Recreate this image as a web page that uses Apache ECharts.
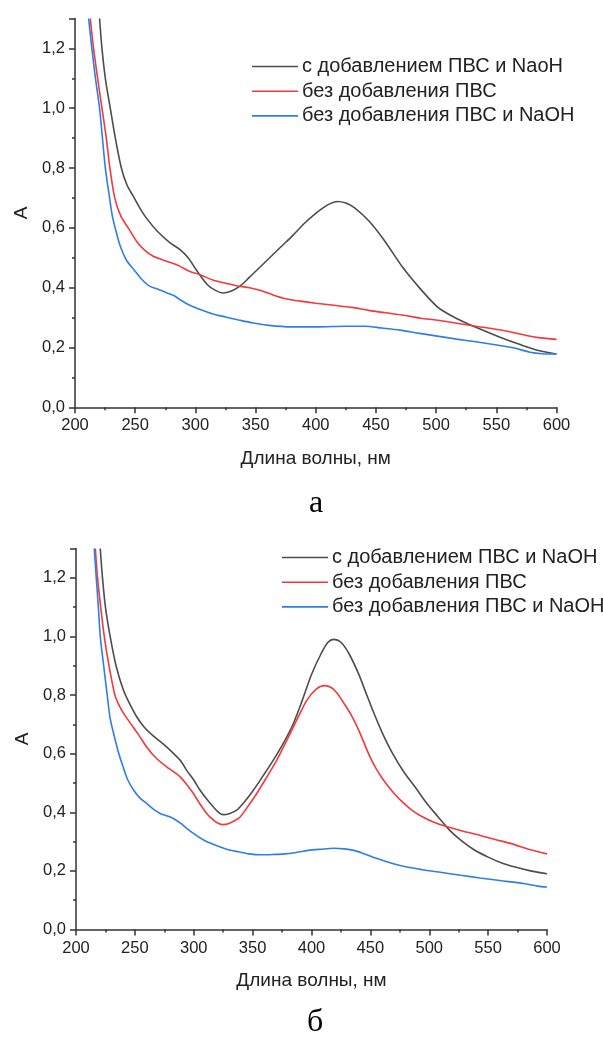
<!DOCTYPE html>
<html>
<head>
<meta charset="utf-8">
<script src="https://cdn.jsdelivr.net/npm/echarts@6/dist/echarts.min.js"></script>
<style>
    body {margin: 0; background: #fff;}
    #chart_a {width: 603px; height: 520px;}
    #chart_b {width: 603px; height: 522px;}
</style>
</head>
<body>
<div id="chart_a"></div>
<div id="chart_b"></div>
<script>
// axis settings (nm / absorbance)
var xMin = 200, xMax = 600, xStep = 50;
var yMin = 0, yMax = 1.3, yStep = 0.2;

var namesA = ['с добавлением ПВС и NaoH', 'без добавления ПВС', 'без добавления ПВС и NaOH'];
var namesB = ['с добавлением ПВС и NaOH', 'без добавления ПВС', 'без добавления ПВС и NaOH'];
var colors = ['#4d4d4d', '#f2393b', '#2d7ee6'];

// chart а : [wavelength, A]
var aBlack = [[220.4,1.3],[222.4,1.2],[225.2,1.1],[229.3,1.0],[233.5,0.9],[238.5,0.8],[243,0.745],[248.5,0.705],[254,0.665],[259.8,0.63],
    [269,0.586],[279,0.55],[287,0.528],[294,0.5],[301,0.458],[310,0.41],[317,0.39],[323,0.382],[330,0.389],[337,0.405],
    [345,0.435],[354,0.47],[363,0.505],[372,0.54],[381,0.575],[390,0.613],[398,0.642],[406,0.667],[412,0.681],[418,0.688],
    [425,0.683],[432,0.668],[444,0.624],[457,0.558],[472,0.469],[488,0.391],[501,0.336],[510,0.312],[520,0.291],[532,0.269],
    [552,0.236],[571,0.208],[585,0.19],[600,0.178]];
var aRed = [[212.7,1.3],[215.4,1.2],[218.8,1.1],[222.4,1.0],[226,0.9],[229,0.8],[233,0.7],[238,0.64],[245,0.595],[252,0.55],
    [258,0.525],[265,0.505],[272,0.494],[280,0.483],[287,0.472],[295,0.455],[304,0.443],[315,0.425],[326,0.414],[336,0.405],
    [345,0.4],[355,0.39],[365,0.375],[376,0.362],[387,0.355],[400,0.348],[415,0.341],[430,0.334],[444,0.324],[458,0.316],
    [473,0.308],[487,0.298],[501,0.291],[517,0.281],[533,0.271],[548,0.262],[562,0.252],[575,0.24],[585,0.233],[600,0.227]];
var aBlue = [[211.3,1.3],[214,1.2],[217,1.1],[220.4,1.0],[222.8,0.9],[225.2,0.8],[228,0.72],[231,0.64],[234,0.59],[237.5,0.54],
    [243,0.49],[249,0.46],[255,0.43],[262,0.405],[269,0.395],[276,0.383],[282,0.374],[288,0.358],[295,0.342],[304,0.327],
    [314,0.313],[325,0.302],[336,0.292],[348,0.282],[361,0.274],[380,0.269],[402,0.269],[425,0.271],[441,0.271],[455,0.265],
    [470,0.258],[485,0.248],[501,0.238],[517,0.228],[533,0.219],[549,0.209],[565,0.198],[578,0.184],[588,0.179],[600,0.178]];

// chart б
var bBlack = [[220.6,1.3],[222.5,1.2],[225,1.1],[229,1.0],[234,0.9],[240,0.82],[245,0.775],[251.7,0.725],[258,0.69],[265.8,0.66],
    [275,0.63],[283,0.6],[289,0.575],[294,0.543],[300,0.51],[305.4,0.475],[311,0.445],[316.7,0.418],[321,0.4],[325,0.392],
    [330,0.395],[336.5,0.407],[343,0.435],[350.6,0.475],[359,0.525],[367.6,0.578],[376,0.635],[384.6,0.703],[392,0.78],[400,0.87],
    [408,0.94],[414,0.98],[419,0.99],[425,0.98],[432,0.94],[440,0.872],[446,0.81],[452,0.748],[460,0.672],[468,0.607],
    [478,0.54],[488,0.486],[498,0.43],[507.6,0.384],[517,0.34],[527,0.304],[538,0.272],[550,0.247],[561,0.228],[573,0.213],
    [586,0.2],[600,0.19]];
var bRed = [[216.4,1.3],[218.3,1.2],[221,1.1],[224,1.0],[228,0.9],[233,0.8],[236,0.77],[240,0.74],[246,0.705],[253,0.665],
    [260,0.623],[268,0.585],[277,0.555],[283,0.538],[288.4,0.521],[294,0.495],[299.7,0.464],[305,0.43],[311,0.396],[317,0.372],
    [321,0.362],[325,0.358],[330,0.362],[335,0.372],[339.4,0.384],[346,0.42],[353.5,0.464],[362,0.52],[370.5,0.578],[379,0.645],
    [387.4,0.714],[396,0.782],[404,0.82],[411,0.832],[417,0.825],[422,0.805],[427,0.775],[434,0.73],[441,0.672],[449,0.595],
    [455,0.548],[462,0.505],[470,0.465],[478,0.432],[486,0.405],[494.5,0.384],[504,0.366],[514,0.352],[528,0.336],[543.5,0.321],
    [556,0.307],[569.6,0.293],[585,0.273],[600,0.258]];
var bBlue = [[215.5,1.3],[217.2,1.2],[219,1.1],[220.6,1.0],[223.5,0.9],[226.5,0.8],[229,0.72],[232,0.668],[236,0.605],[240,0.555],
    [244,0.51],[249,0.475],[254,0.45],[260,0.43],[266,0.41],[271.5,0.396],[277,0.388],[283,0.378],[289,0.362],[294,0.345],
    [300,0.327],[308,0.306],[318,0.288],[328,0.274],[338,0.265],[347,0.258],[357,0.255],[367,0.256],[377,0.258],[387,0.263],
    [397,0.27],[408,0.274],[419,0.277],[428,0.275],[436,0.27],[445,0.258],[455,0.243],[468,0.226],[481,0.213],[494,0.204],
    [508,0.196],[527,0.185],[543,0.176],[560,0.167],[580,0.157],[592,0.148],[600,0.145]];

var sans = 'Liberation Sans, Arial, sans-serif';
var axisColor = '#333';

function makeOption(names, data, grid, legendPos, letter, letterPos)
{
    var series = [];
    for (var i = 0; i < data.length; i++) {
        series.push({
            name: names[i],
            type: 'line',
            smooth: 0.3,
            symbol: 'none',
            lineStyle: {width: 1.6, color: colors[i]},
            itemStyle: {color: colors[i]},
            data: data[i]
        });
    }
    return {
        animation: false,
        color: colors,
        grid: grid,
        legend: {
            orient: 'vertical',
            left: legendPos[0],
            top: legendPos[1],
            padding: 0,
            icon: 'rect',
            itemWidth: 46,
            itemHeight: 1.6,
            itemGap: 4.7,
            textStyle: {fontFamily: sans, fontSize: 20, color: '#222', lineHeight: 20, padding: [0, 0, 0, -1]},
            data: names
        },
        xAxis: {
            type: 'value',
            min: xMin, max: xMax, interval: xStep,
            name: 'Длина волны, нм',
            nameLocation: 'middle',
            nameGap: 42,
            nameTextStyle: {fontFamily: sans, fontSize: 19, color: '#222'},
            axisLine: {lineStyle: {color: axisColor, width: 1.5}},
            axisTick: {inside: false, length: 6, lineStyle: {color: axisColor, width: 1.5}},
            minorTick: {show: true, splitNumber: 2, length: 3, lineStyle: {color: axisColor, width: 1.5}},
            axisLabel: {fontFamily: sans, fontSize: 16.5, color: '#222', margin: 10},
            splitLine: {show: false}
        },
        yAxis: {
            type: 'value',
            min: yMin, max: yMax, interval: yStep,
            name: 'A',
            nameLocation: 'middle',
            nameGap: 44,
            nameRotate: 90,
            nameTextStyle: {fontFamily: sans, fontSize: 19, color: '#222'},
            axisLine: {show: true, lineStyle: {color: axisColor, width: 1.5}},
            axisTick: {show: true, inside: false, length: 6, lineStyle: {color: axisColor, width: 1.5}},
            minorTick: {show: true, splitNumber: 2, length: 3, lineStyle: {color: axisColor, width: 1.5}},
            axisLabel: {
                fontFamily: sans, fontSize: 16.5, color: '#222', margin: 10,
                showMaxLabel: false,
                formatter: function (v) { return v.toFixed(1).replace('.', ','); }
            },
            splitLine: {show: false}
        },
        graphic: [{
            type: 'text',
            left: letterPos[0],
            top: letterPos[1],
            style: {text: letter, font: '32px "Liberation Serif", serif', fill: '#000'}
        }],
        series: series
    };
}

function drawCharts()
{
    var chartA = echarts.init(document.getElementById('chart_a'));
    chartA.setOption(makeOption(namesA, [aBlack, aRed, aBlue],
        {left: 75, right: 46.5, top: 18.5, bottom: 112.7}, [252, 56.5], 'а', [309, 488]));

    var chartB = echarts.init(document.getElementById('chart_b'));
    chartB.setOption(makeOption(namesB, [bBlack, bRed, bBlue],
        {left: 76, right: 56, top: 28.5, bottom: 112.5}, [282, 27.5], 'б', [307, 487]));
}
drawCharts();
</script>
</body>
</html>
